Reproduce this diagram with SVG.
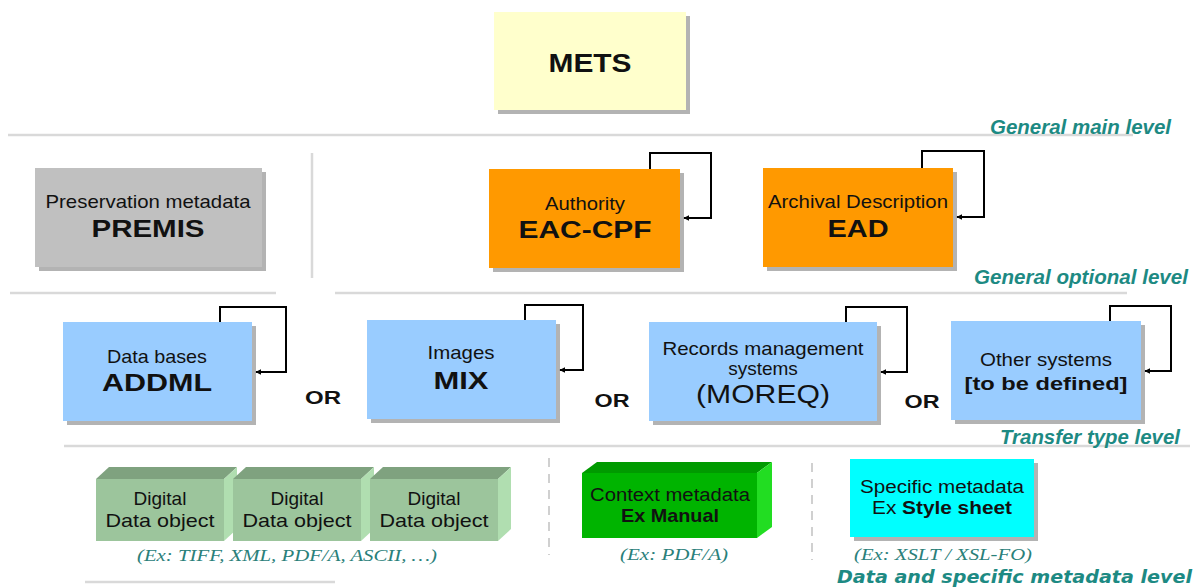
<svg xmlns="http://www.w3.org/2000/svg" width="1198" height="588" viewBox="0 0 1198 588">
<style>
.sep{stroke:#d9d9d9;stroke-width:2.5;fill:none}
.dash{stroke:#d0d0d0;stroke-width:2;stroke-dasharray:9 7;fill:none}
.sh{fill:#999;opacity:.75}
.t{font-family:"Liberation Sans",Arial,sans-serif;fill:#111;text-anchor:middle}
.b{font-weight:bold}
.lvl{font-family:"Liberation Sans",Arial,sans-serif;font-weight:bold;font-style:italic;fill:#1d8a83;text-anchor:end;font-size:20px}
.cap{font-family:"Liberation Serif","Times New Roman",serif;font-style:italic;fill:#2a807a;text-anchor:middle;font-size:17px}
.loop{stroke:#000;stroke-width:2;fill:none}
</style>
<defs>
<marker id="ah" viewBox="0 0 10 10" refX="9" refY="5" markerWidth="6" markerHeight="6" orient="auto" markerUnits="userSpaceOnUse">
<path d="M0,0 L10,5 L0,10 z" fill="#000"/>
</marker>
</defs>
<rect width="1198" height="588" fill="#fff"/>
<g id="separators">
<line class="sep" x1="8" y1="135" x2="1133" y2="135"/>
<line class="sep" x1="10" y1="293" x2="276" y2="293"/>
<line class="sep" x1="335" y1="293" x2="1127" y2="293"/>
<line class="sep" x1="64" y1="446" x2="1190" y2="446"/>
<line class="sep" x1="85" y1="582" x2="335" y2="582"/>
<line class="sep" x1="312" y1="153" x2="312" y2="278"/>
<line class="dash" x1="549" y1="458" x2="549" y2="555"/>
<line class="dash" x1="812" y1="463" x2="812" y2="560"/>
</g>
<g id="levels">
<text class="lvl" x="1171" y="134" textLength="181" lengthAdjust="spacingAndGlyphs">General main level</text>
<text class="lvl" x="1188" y="284" textLength="214" lengthAdjust="spacingAndGlyphs">General optional level</text>
<text class="lvl" x="1180" y="444" textLength="180" lengthAdjust="spacingAndGlyphs">Transfer type level</text>
<text class="lvl" x="1192" y="583" style="font-family:'DejaVu Sans',Verdana,sans-serif;font-size:17px" textLength="355" lengthAdjust="spacingAndGlyphs">Data and specific metadata level</text>
</g>
<g id="mets">
<rect class="sh" x="498" y="16" width="192" height="98"/>
<rect x="494" y="12" width="192" height="98" fill="#ffffcc"/>
<text class="t b" x="590" y="72" font-size="25" textLength="83" lengthAdjust="spacingAndGlyphs">METS</text>
</g>
<g id="premis">
<rect class="sh" x="39" y="172" width="227" height="99"/>
<rect x="35" y="168" width="227" height="99" fill="#c0c0c0"/>
<text class="t" x="148" y="208" font-size="19" textLength="205" lengthAdjust="spacingAndGlyphs">Preservation metadata</text>
<text class="t b" x="148" y="237" font-size="24" textLength="113" lengthAdjust="spacingAndGlyphs">PREMIS</text>
</g>
<g id="eac">
<rect class="sh" x="493" y="173" width="191" height="99"/>
<rect x="489" y="169" width="191" height="99" fill="#ff9900"/>
<text class="t" x="585" y="210" font-size="19" textLength="80" lengthAdjust="spacingAndGlyphs">Authority</text>
<text class="t b" x="585" y="238" font-size="24" textLength="133" lengthAdjust="spacingAndGlyphs">EAC-CPF</text>
</g>
<g id="ead">
<rect class="sh" x="767" y="172" width="190" height="99"/>
<rect x="763" y="168" width="190" height="99" fill="#ff9900"/>
<text class="t" x="858" y="208" font-size="19" textLength="180" lengthAdjust="spacingAndGlyphs">Archival Description</text>
<text class="t b" x="858" y="237" font-size="24" textLength="61" lengthAdjust="spacingAndGlyphs">EAD</text>
</g>
<g id="addml">
<rect class="sh" x="67" y="326" width="189" height="99"/>
<rect x="63" y="322" width="189" height="99" fill="#99ccff"/>
<text class="t" x="157" y="363" font-size="19" textLength="100" lengthAdjust="spacingAndGlyphs">Data bases</text>
<text class="t b" x="157" y="391" font-size="24" textLength="110" lengthAdjust="spacingAndGlyphs">ADDML</text>
</g>
<g id="mix">
<rect class="sh" x="371" y="324" width="189" height="99"/>
<rect x="367" y="320" width="189" height="99" fill="#99ccff"/>
<text class="t" x="461" y="359" font-size="19" textLength="67" lengthAdjust="spacingAndGlyphs">Images</text>
<text class="t b" x="461" y="389" font-size="24" textLength="55" lengthAdjust="spacingAndGlyphs">MIX</text>
</g>
<g id="moreq">
<rect class="sh" x="653" y="326" width="228" height="99"/>
<rect x="649" y="322" width="228" height="99" fill="#99ccff"/>
<text class="t" x="763" y="355" font-size="19" textLength="201" lengthAdjust="spacingAndGlyphs">Records management</text>
<text class="t" x="763" y="375" font-size="19">systems</text>
<text class="t" x="763" y="403" font-size="25" textLength="134" lengthAdjust="spacingAndGlyphs">(MOREQ)</text>
</g>
<g id="other">
<rect class="sh" x="955" y="325" width="190" height="99"/>
<rect x="951" y="321" width="190" height="99" fill="#99ccff"/>
<text class="t" x="1046" y="366" font-size="19" textLength="132" lengthAdjust="spacingAndGlyphs">Other systems</text>
<text class="t b" x="1046" y="390" font-size="18" textLength="163" lengthAdjust="spacingAndGlyphs">[to be defined]</text>
</g>
<g id="or-labels">
<text class="t b" x="323" y="404" font-size="18" textLength="36" lengthAdjust="spacingAndGlyphs">OR</text>
<text class="t b" x="612" y="407" font-size="18" textLength="35" lengthAdjust="spacingAndGlyphs">OR</text>
<text class="t b" x="922" y="408" font-size="18" textLength="35" lengthAdjust="spacingAndGlyphs">OR</text>
</g>
<g id="digital1">
<polygon points="96,479 109,467 237,467 224,479" fill="#7fa27f"/>
<polygon points="224,479 237,467 237,529 224,541" fill="#b0deb0"/>
<rect x="96" y="479" width="128" height="62" fill="#9cc59c"/>
<text class="t" x="160" y="505" font-size="19">Digital</text>
<text class="t" x="160" y="527" font-size="19" textLength="109" lengthAdjust="spacingAndGlyphs">Data object</text>
</g>
<g id="digital2">
<polygon points="233,479 246,467 374,467 361,479" fill="#7fa27f"/>
<polygon points="361,479 374,467 374,529 361,541" fill="#b0deb0"/>
<rect x="233" y="479" width="128" height="62" fill="#9cc59c"/>
<text class="t" x="297" y="505" font-size="19">Digital</text>
<text class="t" x="297" y="527" font-size="19" textLength="109" lengthAdjust="spacingAndGlyphs">Data object</text>
</g>
<g id="digital3">
<polygon points="370,479 383,467 511,467 498,479" fill="#7fa27f"/>
<polygon points="498,479 511,467 511,529 498,541" fill="#b0deb0"/>
<rect x="370" y="479" width="128" height="62" fill="#9cc59c"/>
<text class="t" x="434" y="505" font-size="19">Digital</text>
<text class="t" x="434" y="527" font-size="19" textLength="109" lengthAdjust="spacingAndGlyphs">Data object</text>
</g>
<g id="context">
<polygon points="582,473 597,462 772,462 757,473" fill="#009a00"/>
<polygon points="757,473 772,462 772,527 757,538" fill="#22dd22"/>
<rect x="582" y="473" width="175" height="65" fill="#00b400"/>
<text class="t" x="670" y="501" font-size="18" textLength="160" lengthAdjust="spacingAndGlyphs">Context metadata</text>
<text class="t b" x="670" y="522" font-size="19" textLength="98" lengthAdjust="spacingAndGlyphs">Ex Manual</text>
</g>
<g id="specific">
<rect class="sh" x="854" y="463" width="184" height="78"/>
<rect x="850" y="459" width="184" height="78" fill="#00ffff"/>
<text class="t" x="942" y="493" font-size="18" textLength="164" lengthAdjust="spacingAndGlyphs">Specific metadata</text>
<text class="t" x="942" y="514" font-size="19" textLength="140" lengthAdjust="spacingAndGlyphs">Ex <tspan font-weight="bold">Style sheet</tspan></text>
</g>
<g id="captions">
<text class="cap" x="287" y="561" textLength="300" lengthAdjust="spacingAndGlyphs">(Ex: TIFF, XML, PDF/A, ASCII, …)</text>
<text class="cap" x="674" y="560" textLength="108" lengthAdjust="spacingAndGlyphs">(Ex: PDF/A)</text>
<text class="cap" x="943" y="560" textLength="178" lengthAdjust="spacingAndGlyphs">(Ex: XSLT / XSL-FO)</text>
</g>
<g id="connectors">
<path class="loop" d="M650,169 V153 H711 V218 H684" marker-end="url(#ah)"/>
<path class="loop" d="M922,168 V151 H984 V217 H957" marker-end="url(#ah)"/>
<path class="loop" d="M220,322 V307 H286 V372 H256" marker-end="url(#ah)"/>
<path class="loop" d="M525,320 V305 H583 V370 H560" marker-end="url(#ah)"/>
<path class="loop" d="M846,322 V307 H907 V372 H881" marker-end="url(#ah)"/>
<path class="loop" d="M1110,321 V306 H1171 V371 H1145" marker-end="url(#ah)"/>
</g>
</svg>
